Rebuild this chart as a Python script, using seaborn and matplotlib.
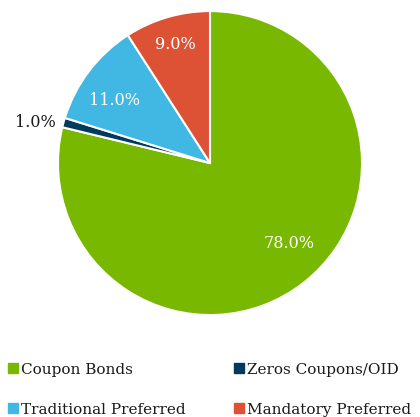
import matplotlib
matplotlib.use("Agg")
import matplotlib.pyplot as plt
from matplotlib.lines import Line2D
import seaborn as sns

categories = ["Coupon Bonds", "Zeros Coupons/OID", "Traditional Preferred", "Mandatory Preferred"]
shares = [78.0, 1.0, 11.0, 9.0]
colors = ["#78B800", "#003A5D", "#40B8E3", "#DD5235"]

sns.set_theme(style="white")
plt.rcParams["font.family"] = ["DejaVu Serif"]

fig = plt.figure(figsize=(4.2, 4.17), dpi=100)
ax = fig.add_axes([0.138, 0.2445, 0.724, 0.729])

total = sum(shares)


def share_label(pct):
    return f"{pct * total / 100:.1f}%"


wedges, texts, autotexts = ax.pie(
    shares,
    colors=colors,
    startangle=90,
    counterclock=False,
    autopct=share_label,
    pctdistance=0.79,
    wedgeprops=dict(edgecolor="white", linewidth=1.5),
    textprops=dict(fontsize=11.5, color="white"),
)
ax.set_aspect("equal")
ax.set_xlim(-1.0, 1.0)
ax.set_ylim(-1.0, 1.0)

# label placement inside/outside the slices
label_pos = [(0.52, -0.53), (-1.15, 0.27), (-0.63, 0.41), (-0.23, 0.78)]
for t, pos in zip(autotexts, label_pos):
    t.set_position(pos)
autotexts[1].set_color("#1a1a1a")

order = [0, 2, 1, 3]
handles = [
    Line2D([0], [0], marker="s", linestyle="none", markersize=7,
           markerfacecolor=colors[i], markeredgecolor=colors[i])
    for i in order
]
fig.legend(
    handles, [categories[i] for i in order],
    ncol=2, loc="upper left", bbox_to_anchor=(0.02, 0.13),
    frameon=False, fontsize=11, handlelength=0.6, handletextpad=0.2,
    labelspacing=1.7, columnspacing=3.25, borderaxespad=0, borderpad=0,
    labelcolor="#1a1a1a",
)

fig.savefig("out.png", dpi=100)
